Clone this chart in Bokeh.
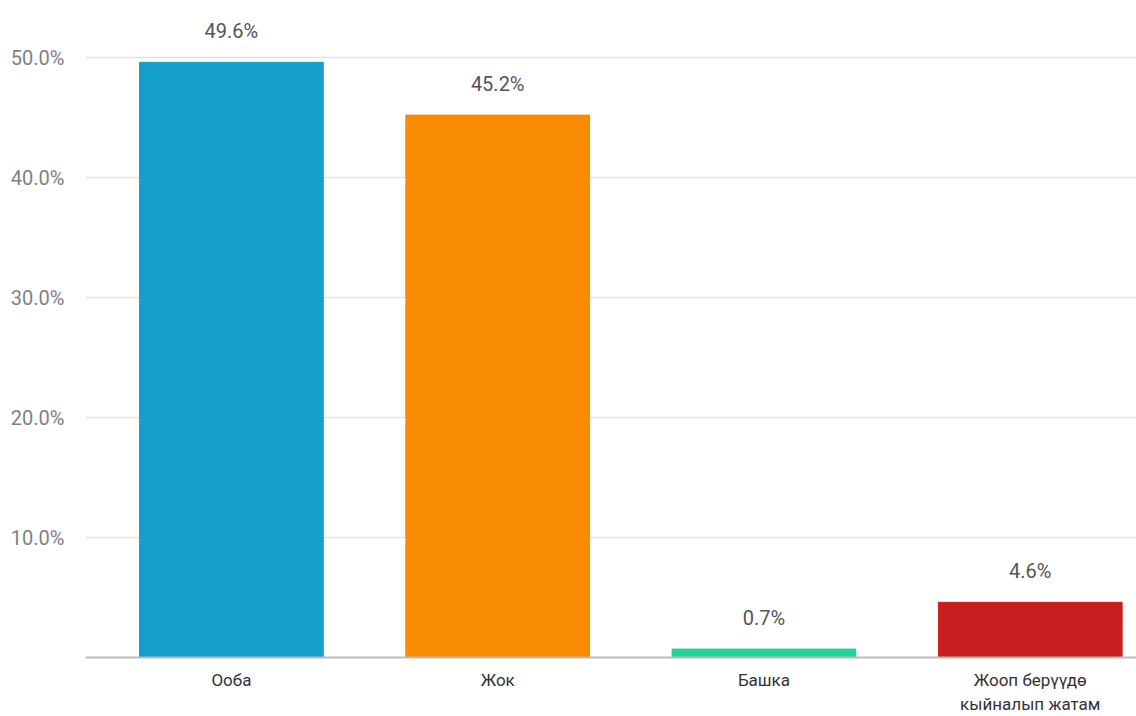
from bokeh.plotting import figure
from bokeh.models import ColumnDataSource, Range1d, FixedTicker
from bokeh.core.properties import value
from bokeh.embed import file_html
from bokeh.resources import INLINE

categories = ["Ооба", "Жок", "Башка", "Жооп берүүдө\nкыйналып жатам"]
values = [49.6, 45.2, 0.7, 4.6]
colors = ["#179fcc", "#f88b00", "#20d29b", "#c81e1f"]
y_ticks = [10, 20, 30, 40, 50]
y_tick_labels = ["10.0%", "20.0%", "30.0%", "40.0%", "50.0%"]

FONT = "Roboto"

xs = [i + 0.5 for i in range(len(categories))]
src = ColumnDataSource(dict(
    x=xs, top=values, color=colors,
    label=[f"{v:.1f}%" for v in values],
))

p = figure(width=1136, height=716, output_backend="svg", toolbar_location=None,
           x_range=Range1d(-0.048, 3.899), y_range=Range1d(0, 54.75),
           min_border_left=85, min_border_right=0, min_border_top=0, min_border_bottom=59)
p.outline_line_color = None
p.background_fill_color = "white"

p.vbar(x="x", top="top", width=0.69, bottom=0, color="color", source=src)
p.text(x="x", y="top", text="label", source=src, text_align="center",
       text_baseline="middle", y_offset=-31, text_font=value(FONT),
       text_font_size="20px", text_color="#555555")

# y axis
p.yaxis.ticker = FixedTicker(ticks=y_ticks)
p.yaxis.major_label_overrides = {t: l for t, l in zip(y_ticks, y_tick_labels)}
p.yaxis.axis_line_color = None
p.yaxis.major_tick_line_color = None
p.yaxis.minor_tick_line_color = None
p.yaxis.major_label_standoff = 15
p.yaxis.major_label_text_font = FONT
p.yaxis.major_label_text_font_size = "20px"
p.yaxis.major_label_text_color = "#808080"

# x axis
p.xaxis.ticker = FixedTicker(ticks=xs)
p.xaxis.major_label_overrides = {x: c for x, c in zip(xs, categories)}
p.xaxis.axis_line_color = "#bbbbbb"
p.xaxis.axis_line_width = 2
p.xaxis.major_tick_line_color = None
p.xaxis.minor_tick_line_color = None
p.xaxis.major_label_standoff = 6
p.xaxis.major_label_text_font = FONT
p.xaxis.major_label_text_font_size = "17px"
p.xaxis.major_label_text_color = "#333333"
p.xaxis.major_label_text_line_height = 1.22

p.xgrid.grid_line_color = None
p.ygrid.ticker = FixedTicker(ticks=y_ticks)
p.ygrid.grid_line_color = "#e2e2e2"
p.ygrid.grid_line_width = 1.5

open("out.html", "w").write(file_html(p, INLINE))
